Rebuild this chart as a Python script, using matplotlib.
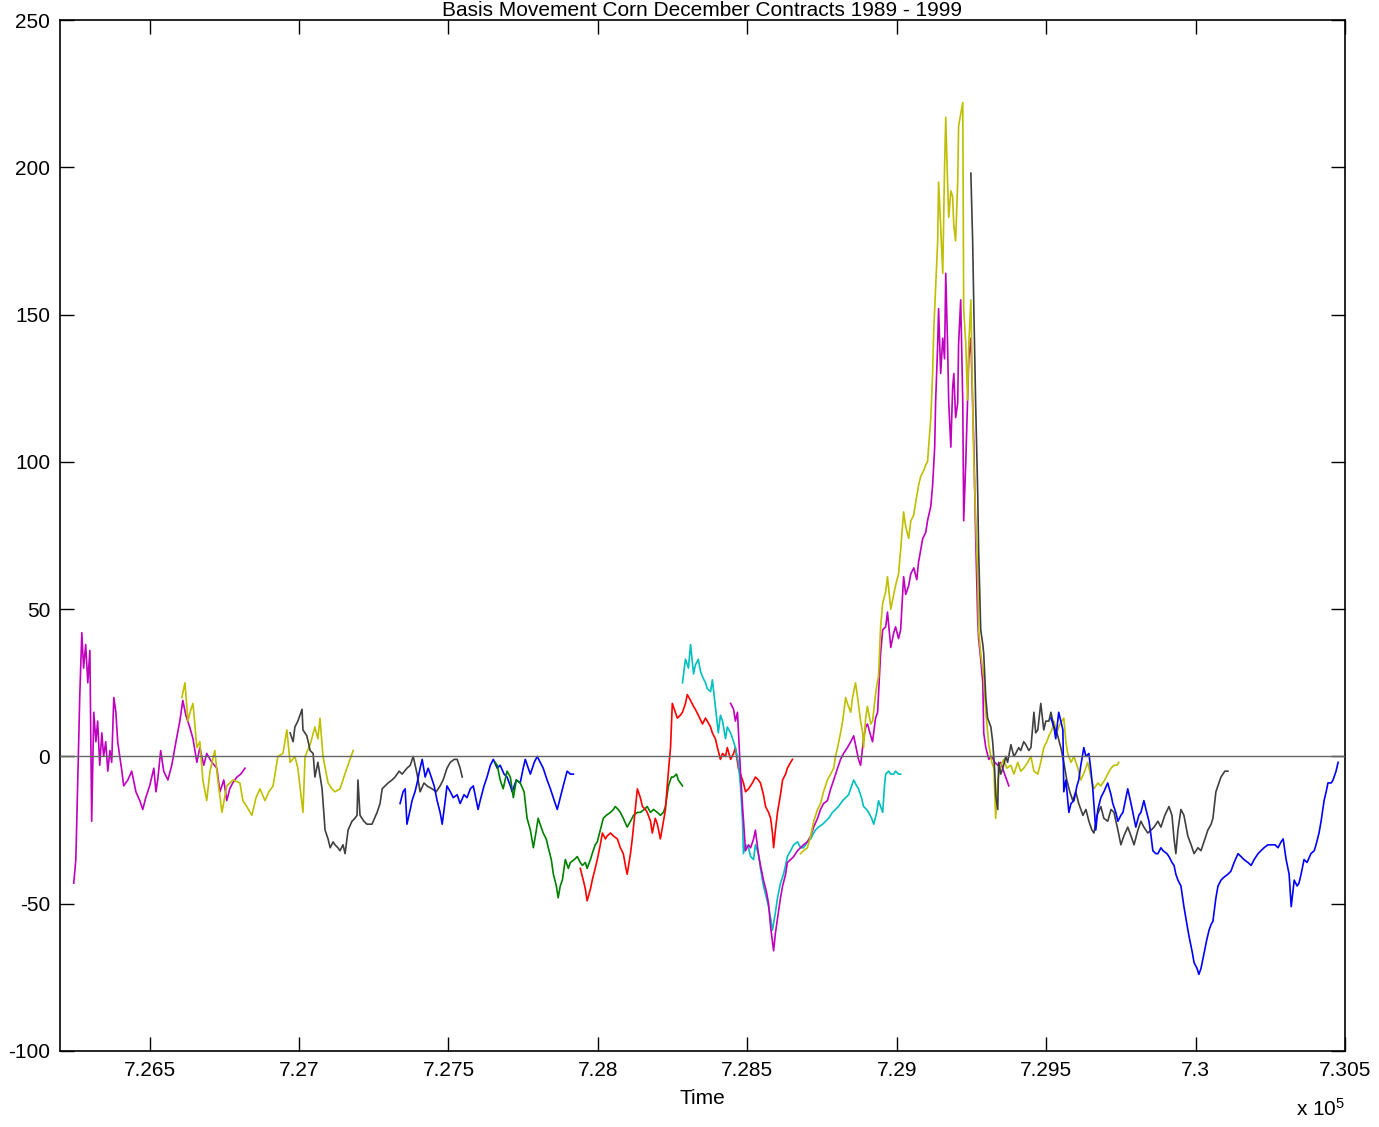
import numpy as np
import matplotlib
matplotlib.use("Agg")
import matplotlib.pyplot as plt
from matplotlib.ticker import FuncFormatter

plt.rcParams['font.family'] = ['Liberation Sans', 'DejaVu Sans']
plt.rcParams['mathtext.fontset'] = 'custom'
plt.rcParams['mathtext.rm'] = 'Liberation Sans'
plt.rcParams['mathtext.it'] = 'Liberation Sans:italic'
plt.rcParams['axes.unicode_minus'] = False

# December corn contracts: date (datenum) and basis (cents/bu)
dates_89 = [726246, 726253, 726259, 726266, 726273, 726279, 726286, 726293, 726300, 726306,
            726313, 726320, 726326, 726333, 726340, 726346, 726353, 726360, 726367, 726373,
            726380, 726387, 726393, 726400, 726407, 726413, 726427, 726440, 726454, 726467,
            726477, 726487, 726500, 726514, 726521, 726527, 726537, 726547, 726561, 726574,
            726588, 726601, 726611, 726621, 726634, 726645, 726658, 726668, 726681, 726691,
            726708, 726725, 726735, 726748, 726758, 726768, 726778, 726792, 726805, 726819]
basis_89 = [-43, -35, -10, 20, 42, 30, 38, 25, 36, -22,
            15, 5, 12, -3, 8, 0, 5, -5, 2, -2,
            20, 15, 5, 0, -5, -10, -8, -5, -12, -15,
            -18, -14, -10, -4, -12, -8, 2, -5, -8, -3,
            5, 12, 19, 14, 10, 6, -2, 3, -3, 1,
            -2, -4, -12, -8, -15, -11, -9, -7, -6, -4]

dates_90 = [726608, 726618, 726628, 726638, 726645, 726658, 726668, 726678, 726691, 726702,
            726718, 726728, 726742, 726758, 726779, 726802, 726812, 726825, 726842, 726856,
            726869, 726886, 726899, 726913, 726929, 726946, 726959, 726970, 726986, 726996,
            727013, 727020, 727037, 727053, 727063, 727070, 727080, 727097, 727110, 727120,
            727137, 727160, 727181]
basis_90 = [20, 25, 12, 16, 18, 3, 5, -8, -15, -5,
            2, -8, -19, -10, -8, -9, -15, -17, -20, -14,
            -11, -15, -12, -10, 0, 1, 9, -2, 0, -4,
            -19, 0, 4, 10, 6, 13, 0, -9, -11, -12,
            -11, -4, 2]

dates_91 = [726970, 726980, 726986, 726996, 727010, 727013, 727026, 727037, 727047, 727053,
            727063, 727077, 727087, 727097, 727104, 727114, 727120, 727130, 727137, 727147,
            727154, 727164, 727177, 727187, 727194, 727197, 727204, 727217, 727227, 727244,
            727261, 727271, 727278, 727288, 727298, 727311, 727321, 727335, 727345, 727361,
            727372, 727382, 727395, 727405, 727418, 727428, 727445, 727459, 727472, 727482,
            727495, 727506, 727519, 727529, 727539, 727546]
basis_91 = [8, 5, 10, 12, 16, 9, 7, 2, 1, -7,
            -2, -11, -25, -28, -31, -29, -30, -31, -32, -30,
            -33, -25, -22, -21, -20, -8, -20, -22, -23, -23,
            -19, -16, -11, -10, -9, -8, -7, -5, -6, -4,
            -3, 0, -6, -12, -9, -10, -11, -12, -10, -8,
            -4, -2, -1, -1, -4, -7]

dates_92 = [727338, 727348, 727355, 727361, 727372, 727378, 727388, 727395, 727405, 727412,
            727422, 727432, 727439, 727452, 727462, 727472, 727479, 727489, 727495, 727506,
            727516, 727529, 727539, 727552, 727562, 727573, 727583, 727593, 727599, 727606,
            727619, 727629, 727640, 727650, 727663, 727673, 727686, 727696, 727707, 727713,
            727727, 727740, 727750, 727757, 727767, 727774, 727787, 727797, 727807, 727817,
            727830, 727841, 727854, 727864, 727874, 727884, 727897, 727908, 727918]
basis_92 = [-16, -12, -11, -23, -18, -15, -12, -9, -4, -1,
            -7, -4, -6, -10, -15, -19, -23, -15, -10, -12,
            -14, -13, -16, -13, -14, -11, -10, -15, -18, -15,
            -10, -7, -3, -1, -4, -3, -6, -7, -10, -12,
            -8, -9, -4, -1, -4, -6, -2, 0, -2, -4,
            -8, -11, -15, -18, -14, -10, -5, -6, -6]

dates_93 = [727656, 727663, 727673, 727683, 727696, 727707, 727717, 727727, 727740, 727753,
            727763, 727774, 727784, 727794, 727800, 727810, 727817, 727827, 727834, 727844,
            727851, 727861, 727867, 727874, 727881, 727891, 727901, 727908, 727921, 727931,
            727941, 727948, 727958, 727964, 727975, 727981, 727991, 727998, 728008, 728018,
            728028, 728042, 728052, 728058, 728068, 728075, 728085, 728098, 728109, 728119,
            728132, 728142, 728155, 728165, 728176, 728186, 728199, 728209, 728219, 728226,
            728236, 728246, 728253, 728263, 728269, 728283]
basis_93 = [-2, -3, -8, -11, -5, -7, -14, -8, -9, -12,
            -21, -25, -31, -25, -21, -24, -26, -28, -31, -35,
            -40, -44, -48, -44, -42, -35, -38, -36, -35, -34,
            -36, -37, -36, -38, -35, -33, -30, -29, -25, -21,
            -20, -19, -18, -17, -18, -19, -21, -24, -22, -20,
            -19, -19, -18, -17, -19, -18, -19, -20, -19, -17,
            -10, -7, -7, -6, -8, -10]

dates_94 = [727941, 727951, 727958, 727964, 727975, 727981, 727991, 727998, 728008, 728015,
            728025, 728031, 728042, 728052, 728065, 728075, 728085, 728092, 728098, 728109,
            728115, 728125, 728132, 728142, 728149, 728159, 728165, 728176, 728182, 728192,
            728199, 728209, 728216, 728226, 728232, 728236, 728243, 728249, 728259, 728266,
            728276, 728283, 728293, 728299, 728310, 728320, 728326, 728336, 728350, 728360,
            728366, 728377, 728383, 728393, 728400, 728410, 728417, 728427, 728433, 728444,
            728454, 728460, 728470, 728477, 728487, 728494, 728504, 728517, 728527, 728537,
            728544, 728554, 728561, 728571, 728578, 728584, 728588, 728594, 728601, 728611,
            728618, 728628, 728634, 728645, 728651]
basis_94 = [-38, -42, -45, -49, -45, -42, -38, -35, -30, -26,
            -28, -27, -26, -27, -28, -31, -33, -37, -40, -33,
            -28, -18, -11, -14, -17, -18, -19, -22, -26, -21,
            -23, -28, -24, -18, -10, -5, 3, 18, 15, 13,
            14, 15, 18, 21, 19, 17, 16, 14, 11, 13,
            12, 10, 8, 6, 3, -1, 1, 0, 3, -1,
            1, 3, -4, -6, -9, -12, -11, -9, -7, -8,
            -9, -13, -17, -19, -21, -26, -31, -25, -19, -13,
            -8, -6, -4, -2, -1]

dates_95 = [728283, 728293, 728303, 728310, 728320, 728326, 728336, 728343, 728350, 728360,
            728366, 728377, 728383, 728393, 728403, 728410, 728417, 728427, 728433, 728444,
            728454, 728460, 728470, 728477, 728484, 728487, 728494, 728504, 728511, 728521,
            728527, 728537, 728544, 728554, 728564, 728571, 728578, 728584, 728594, 728601,
            728611, 728621, 728628, 728634, 728645, 728655, 728668, 728678, 728688, 728701,
            728712, 728722, 728728, 728738, 728752, 728762, 728772, 728785, 728795, 728805,
            728819, 728829, 728839, 728849, 728856, 728866, 728872, 728882, 728889, 728899,
            728906, 728916, 728923, 728933, 728939, 728946, 728953, 728959, 728963, 728973,
            728980, 728990, 728996, 729006, 729013]
basis_95 = [25, 33, 30, 38, 28, 31, 33, 29, 27, 25,
            23, 22, 26, 17, 8, 14, 12, 6, 10, 8,
            5, 3, -2, -10, -22, -33, -30, -31, -34, -35,
            -30, -33, -38, -44, -48, -51, -55, -59, -53, -48,
            -43, -40, -37, -34, -32, -30, -29, -31, -31, -29,
            -28, -26, -25, -24, -23, -22, -21, -19, -18, -17,
            -15, -14, -13, -10, -8, -10, -11, -14, -17, -18,
            -19, -21, -23, -19, -15, -17, -19, -10, -6, -5,
            -6, -6, -5, -6, -6]

dates_96 = [728444, 728454, 728460, 728467, 728477, 728484, 728494, 728504, 728511, 728521,
            728527, 728537, 728544, 728554, 728564, 728571, 728578, 728588, 728594, 728601,
            728611, 728618, 728628, 728634, 728645, 728655, 728668, 728678, 728688, 728701,
            728712, 728722, 728735, 728745, 728755, 728768, 728779, 728789, 728802, 728812,
            728822, 728835, 728846, 728856, 728866, 728872, 728879, 728889, 728896, 728902,
            728913, 728919, 728929, 728936, 728946, 728953, 728963, 728969, 728980, 728990,
            728996, 729006, 729013, 729023, 729030, 729040, 729047, 729057, 729067, 729073,
            729080, 729087, 729097, 729103, 729114, 729120, 729127, 729130, 729137, 729140,
            729147, 729154, 729160, 729164, 729170, 729174, 729181, 729187, 729191, 729197,
            729204, 729207, 729214, 729221, 729224, 729231, 729237, 729241, 729248, 729254,
            729258, 729264, 729271, 729274, 729281, 729288, 729291, 729298, 729308, 729318,
            729328, 729338, 729348, 729361, 729375]
basis_96 = [18, 16, 12, 15, -5, -17, -32, -30, -31, -28,
            -25, -33, -37, -42, -46, -50, -58, -66, -60, -55,
            -48, -44, -40, -36, -35, -34, -32, -31, -30, -29,
            -27, -24, -21, -18, -16, -15, -11, -8, -4, -1,
            1, 3, 5, 7, 2, -1, -3, 6, 10, 11,
            7, 5, 13, 15, 35, 43, 44, 49, 37, 42,
            44, 40, 43, 61, 55, 58, 62, 64, 60, 66,
            70, 74, 76, 80, 85, 92, 105, 120, 140, 152,
            130, 142, 135, 164, 140, 120, 105, 125, 130, 115,
            120, 140, 155, 120, 80, 100, 121, 135, 142, 120,
            105, 75, 46, 40, 33, 25, 8, 3, -1, 0,
            -2, -3, -2, -6, -10]

dates_97 = [728678, 728688, 728701, 728712, 728722, 728735, 728745, 728755, 728768, 728779,
            728789, 728795, 728802, 728812, 728819, 728829, 728835, 728846, 728852, 728862,
            728869, 728879, 728886, 728889, 728896, 728902, 728913, 728919, 728929, 728936,
            728939, 728946, 728953, 728963, 728969, 728980, 728990, 728996, 729006, 729013,
            729023, 729030, 729040, 729047, 729057, 729063, 729073, 729080, 729090, 729097,
            729103, 729114, 729120, 729124, 729130, 729137, 729140, 729147, 729154, 729160,
            729164, 729170, 729174, 729181, 729187, 729191, 729197, 729204, 729207, 729214,
            729221, 729224, 729231, 729237, 729241, 729248, 729254, 729258, 729264, 729271,
            729274, 729281, 729291, 729298, 729308, 729318, 729325, 729331, 729338, 729348,
            729358, 729368, 729382, 729392, 729405, 729415, 729425, 729438, 729449, 729459,
            729472, 729482, 729492, 729502, 729509, 729519, 729526, 729536, 729542, 729552,
            729559, 729566, 729572, 729583, 729593, 729606, 729616, 729629, 729639, 729650,
            729660, 729673, 729683, 729696, 729706, 729717, 729727, 729737, 729743]
basis_97 = [-33, -32, -31, -27, -22, -18, -16, -12, -8, -6,
            -4, 0, 3, 8, 12, 20, 18, 15, 20, 25,
            20, 12, 8, 3, 13, 17, 11, 12, 21, 26,
            27, 44, 52, 56, 61, 50, 55, 58, 62, 70,
            83, 78, 74, 80, 82, 86, 92, 95, 97, 99,
            100, 115, 130, 145, 159, 175, 195, 180, 164, 200,
            217, 195, 183, 192, 190, 180, 175, 195, 214, 218,
            222, 152, 140, 121, 140, 155, 120, 100, 82, 60,
            43, 35, 27, 15, 4, -2, -4, -21, -8, -3,
            -1, -4, -3, -6, -2, -5, -4, -2, 0, -5,
            -6, -2, 3, 5, 7, 9, 12, 8, 10, 12,
            13, 5, 1, -2, 0, -4, -8, -5, -2, -7,
            -11, -9, -10, -8, -6, -4, -3, -3, -2]

dates_98 = [729248, 729254, 729258, 729264, 729271, 729274, 729281, 729288, 729291, 729298,
            729304, 729315, 729321, 729328, 729331, 729338, 729341, 729348, 729355, 729365,
            729371, 729382, 729392, 729398, 729408, 729415, 729425, 729432, 729442, 729449,
            729459, 729465, 729472, 729482, 729492, 729499, 729509, 729516, 729526, 729536,
            729549, 729559, 729569, 729579, 729589, 729599, 729609, 729623, 729633, 729643,
            729653, 729660, 729670, 729683, 729693, 729706, 729717, 729727, 729740, 729750,
            729760, 729773, 729784, 729794, 729807, 729817, 729827, 729840, 729851, 729861,
            729874, 729884, 729897, 729911, 729921, 729928, 729934, 729941, 729951, 729961,
            729974, 729985, 729995, 730008, 730018, 730028, 730041, 730052, 730058, 730068,
            730078, 730085, 730098, 730108]
basis_98 = [198, 175, 152, 120, 89, 70, 43, 38, 35, 20,
            13, 10, 5, -5, -13, -18, -2, -6, -4, 0,
            -2, 4, 0, 1, 3, 2, 5, 4, 2, 3,
            15, 8, 9, 18, 9, 12, 12, 15, 10, 8,
            3, -2, -8, -12, -15, -12, -16, -20, -18, -22,
            -25, -26, -20, -17, -21, -22, -18, -19, -25, -30,
            -27, -24, -27, -30, -25, -22, -24, -26, -25, -24,
            -22, -24, -20, -17, -20, -28, -33, -25, -18, -20,
            -27, -30, -33, -31, -32, -29, -25, -23, -21, -12,
            -9, -7, -5, -5]

dates_99 = [729516, 729526, 729532, 729542, 729549, 729556, 729559, 729566, 729576, 729583,
            729593, 729603, 729609, 729616, 729626, 729633, 729643, 729650, 729656, 729666,
            729673, 729683, 729693, 729706, 729717, 729723, 729733, 729740, 729750, 729757,
            729767, 729773, 729784, 729790, 729800, 729810, 729817, 729827, 729834, 729844,
            729851, 729857, 729867, 729874, 729884, 729891, 729904, 729911, 729921, 729928,
            729934, 729941, 729951, 729961, 729971, 729978, 729988, 729995, 730005, 730011,
            730018, 730028, 730038, 730045, 730052, 730058, 730068, 730075, 730085, 730095,
            730108, 730118, 730129, 730142, 730152, 730162, 730175, 730186, 730196, 730209,
            730219, 730229, 730242, 730252, 730266, 730276, 730286, 730293, 730303, 730313,
            730320, 730330, 730340, 730346, 730353, 730363, 730373, 730386, 730397, 730403,
            730413, 730420, 730430, 730437, 730443, 730454, 730460, 730470, 730477]
basis_99 = [13, 10, 6, 15, 12, 9, -12, -8, -19, -16,
            -15, -10, -8, -3, 3, 0, 1, -5, -11, -25,
            -18, -14, -12, -9, -13, -16, -19, -22, -20, -19,
            -14, -11, -16, -19, -24, -20, -19, -15, -18, -22,
            -27, -32, -33, -33, -31, -32, -33, -34, -36, -37,
            -40, -42, -44, -51, -57, -61, -66, -70, -72, -74,
            -72, -67, -62, -59, -57, -56, -48, -44, -42, -41,
            -40, -39, -36, -33, -34, -35, -36, -37, -35, -33,
            -32, -31, -30, -30, -30, -31, -29, -28, -35, -40,
            -51, -42, -44, -43, -40, -35, -36, -33, -32, -30,
            -26, -22, -15, -12, -9, -9, -8, -5, -2]

# classic MATLAB line colour order
color_order = [(0, 0, 1), (0, 0.5, 0), (1, 0, 0), (0, 0.75, 0.75),
               (0.75, 0, 0.75), (0.75, 0.75, 0), (0.25, 0.25, 0.25)]

contracts = [
    (dates_89, basis_89), (dates_90, basis_90), (dates_91, basis_91),
    (dates_92, basis_92), (dates_93, basis_93), (dates_94, basis_94),
    (dates_95, basis_95), (dates_96, basis_96), (dates_97, basis_97),
    (dates_98, basis_98), (dates_99, basis_99),
]

fig = plt.figure(figsize=(13.79, 11.27), dpi=100)
ax = fig.add_axes([60 / 1379, 1 - 1051 / 1127, 1285 / 1379, 1031 / 1127])

for i, (d, b) in enumerate(contracts):
    # first contract starts on magenta in the colour order
    c = color_order[(i + 4) % len(color_order)]
    ax.plot(d, b, color=c, lw=1.2)

ax.axhline(0, color=(0.4, 0.4, 0.4), lw=1.0, zorder=5)

ax.set_xlim(726200, 730500)
ax.set_ylim(-100, 250)
ax.set_xticks(np.arange(726500, 730501, 500))
ax.set_yticks(np.arange(-100, 251, 50))
ax.xaxis.set_major_formatter(FuncFormatter(lambda v, p: "%g" % (v / 1e5)))

ax.tick_params(direction='in', length=10, width=1.0, top=True, right=True,
               labelsize=15, pad=7)
for s in ax.spines.values():
    s.set_linewidth(1.2)

fig.text(702 / 1379, 1 - 1098 / 1127, "Time", ha='center', va='center', fontsize=15)
fig.text(1345 / 1379, 1 - 1116 / 1127, r"x 10$^{5}$", ha='right', va='baseline', fontsize=15)
fig.text(702 / 1379, 1 - 16 / 1127, "Basis Movement Corn December Contracts 1989 - 1999",
         ha='center', va='baseline', fontsize=15)

fig.savefig("out.png", dpi=100)
